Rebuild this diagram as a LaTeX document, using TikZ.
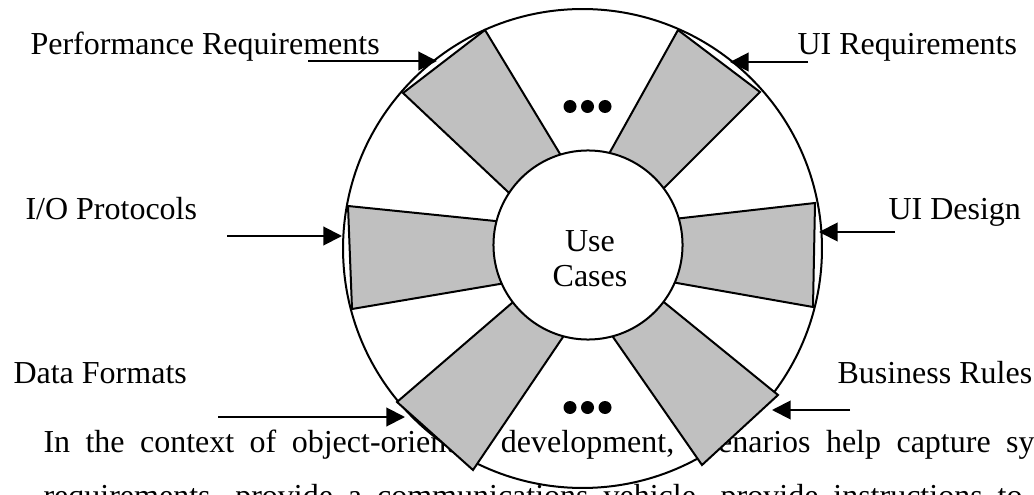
\documentclass[tikz,border=0pt]{standalone}
\usepackage{fontspec}
\setmainfont{Liberation Serif}
\usepackage{tikz}
\usetikzlibrary{arrows.meta,positioning,calc}
\definecolor{spokegray}{RGB}{192,192,192}

\begin{document}
\begin{tikzpicture}[
    x=0.375pt, y=-0.375pt,
    every node/.style={font=\fontsize{12}{14}\selectfont, inner sep=0pt},
    reqlabel/.style={anchor=base west},
    spoke/.style={fill=spokegray, draw, line width=0.75pt},
    ring/.style={circle, draw, line width=0.75pt},
    feed/.style={-{Triangle[length=7pt,width=7pt]}, line width=0.75pt}
]
\useasboundingbox (0,0) rectangle (1034,495);

% page text behind the figure
\node[reqlabel] (line1) at (43,452) {\makebox[371.6pt][s]{In the context of object-oriented development, scenarios help capture sy}};
\node[reqlabel] (line2) at (43,506) {\makebox[367.1pt][s]{requirements, provide a communications vehicle, provide instructions to}};

\node[ring, minimum size=179.6pt] (wheel) at (582.5,248.5) {};

\draw[spoke] (485,30) -- (403,93) -- (515.3,198.8) -- (565.2,162.5) -- cycle;
\draw[spoke] (678,30) -- (760,92) -- (660,192) -- (605.2,160.7) -- cycle;
\draw[spoke] (815,203) -- (813,307) -- (667.2,281.3) -- (672,219.2) -- cycle;
\draw[spoke] (348,206) -- (352,309) -- (509.8,282.3) -- (505,222) -- cycle;
\draw[spoke] (397,402) -- (473,470) -- (568.6,328.7) -- (519.5,296.5) -- cycle;
\draw[spoke] (778,395) -- (702,465) -- (607.3,328.8) -- (657.2,296.7) -- cycle;

\node[ring, fill=white, minimum size=70.9pt] (usecases) at (588,245) {};
\node[anchor=base] (use) at (590,252) {Use};
\node[anchor=base] (cases) at (590,287) {Cases};

\foreach \dx in {-17.5,0,17.5} {
    \fill (587.5+\dx,106.5) circle (6.5);
    \fill (587.5+\dx,407.5) circle (6.5);
}

\node[reqlabel] (perf) at (30,55) {Performance Requirements};
\node[reqlabel] (uireq) at (797,55) {UI Requirements};
\node[reqlabel] (io) at (25,220) {I/O Protocols};
\node[reqlabel] (uides) at (888,220) {UI Design};
\node[reqlabel] (data) at (13,383) {Data Formats};
\node[reqlabel] (rules) at (837,383) {Business Rules};

\coordinate (perftail) at (308,61);
\coordinate (perftip) at (437,61);
\coordinate (uireqtail) at (808,62);
\coordinate (uireqtip) at (730,62);
\coordinate (iotail) at (227,236);
\coordinate (iotip) at (342,236);
\coordinate (uidestail) at (895,232);
\coordinate (uidestip) at (819,232);
\coordinate (datatail) at (218,417);
\coordinate (datatip) at (405,417);
\coordinate (rulestail) at (850,410);
\coordinate (rulestip) at (772,410);

\draw[feed] (perftail) -- (perftip);
\draw[feed] (uireqtail) -- (uireqtip);
\draw[feed] (iotail) -- (iotip);
\draw[feed] (uidestail) -- (uidestip);
\draw[feed] (datatail) -- (datatip);
\draw[feed] (rulestail) -- (rulestip);
\end{tikzpicture}
\end{document}
